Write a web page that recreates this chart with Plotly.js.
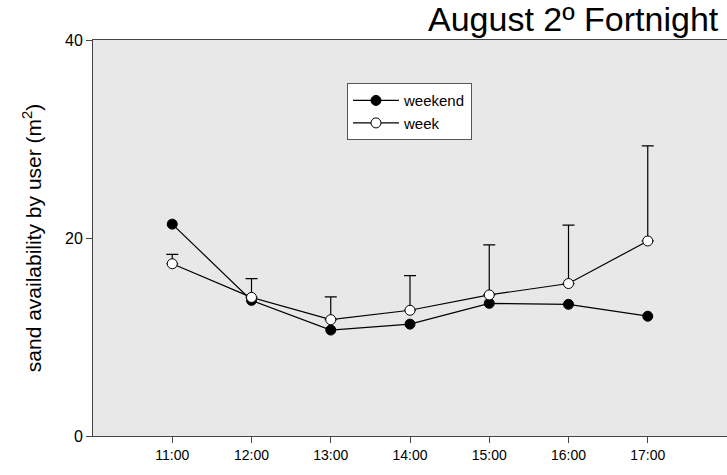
<!DOCTYPE html>
<html>
<head>
<meta charset="utf-8">
<script src="https://cdn.plot.ly/plotly-3.0.1.min.js"></script>
<style>html,body{margin:0;padding:0;background:#fff;}#chart{width:727px;height:475px;}</style>
</head>
<body>
<div id="chart"></div>
<script>
const hours = [11, 12, 13, 14, 15, 16, 17];
const tickLabels = ["11:00", "12:00", "13:00", "14:00", "15:00", "16:00", "17:00"];
const weekend = [21.4, 13.7, 10.7, 11.3, 13.4, 13.3, 12.1];
const week = [17.4, 14.0, 11.75, 12.7, 14.25, 15.4, 19.7];
const weekErrUp = [0.95, 1.9, 2.3, 3.5, 5.05, 5.9, 9.6];

const font = "Liberation Sans, Arial, sans-serif";

const traces = [
  {
    x: hours, y: weekend, name: "weekend", type: "scatter", mode: "lines+markers",
    line: {color: "#000", width: 1.2},
    marker: {color: "#000", size: 10, line: {color: "#000", width: 1}}
  },
  {
    x: hours, y: week, name: "week", type: "scatter", mode: "lines+markers",
    line: {color: "#000", width: 1.2},
    marker: {color: "#fff", size: 10, line: {color: "#000", width: 1}},
    error_y: {type: "data", symmetric: false, array: weekErrUp, arrayminus: weekErrUp.map(() => 0),
      color: "#000", thickness: 1.2, width: 6}
  }
];

const layout = {
  width: 727, height: 475,
  margin: {l: 93, r: 0, t: 40, b: 39},
  paper_bgcolor: "#fff",
  plot_bgcolor: "#e8e8e8",
  font: {family: font, color: "#000"},
  showlegend: true,
  legend: {
    x: 0.4006, y: 0.891, xanchor: "left", yanchor: "top",
    bgcolor: "#fff", bordercolor: "#555", borderwidth: 1,
    font: {size: 15, family: font},
    itemwidth: 46,
    tracegroupgap: 0
  },
  title: {
    text: "August 2º Fortnight",
    font: {size: 34, family: font, color: "#000"},
    x: 0.988, xanchor: "right", xref: "container",
    y: 0.985, yanchor: "top", yref: "container"
  },
  xaxis: {
    range: [10, 18],
    tickvals: hours, ticktext: tickLabels,
    ticks: "outside", ticklen: 6, tickcolor: "#444", tickwidth: 1,
    showline: true, linecolor: "#444", linewidth: 1, mirror: true,
    showgrid: false, zeroline: false,
    tickfont: {size: 14, family: font}
  },
  yaxis: {
    range: [0, 40],
    tickvals: [0, 20, 40],
    ticks: "outside", ticklen: 6, tickcolor: "#444", tickwidth: 1,
    showline: true, linecolor: "#444", linewidth: 1,
    showgrid: false, zeroline: false,
    tickfont: {size: 16, family: font},
    title: {text: "sand availability by user (m<sup>2</sup>)", font: {size: 21, family: font}, standoff: 17}
  }
};

Plotly.newPlot("chart", traces, layout, {displayModeBar: false, staticPlot: true});
</script>
</body>
</html>
